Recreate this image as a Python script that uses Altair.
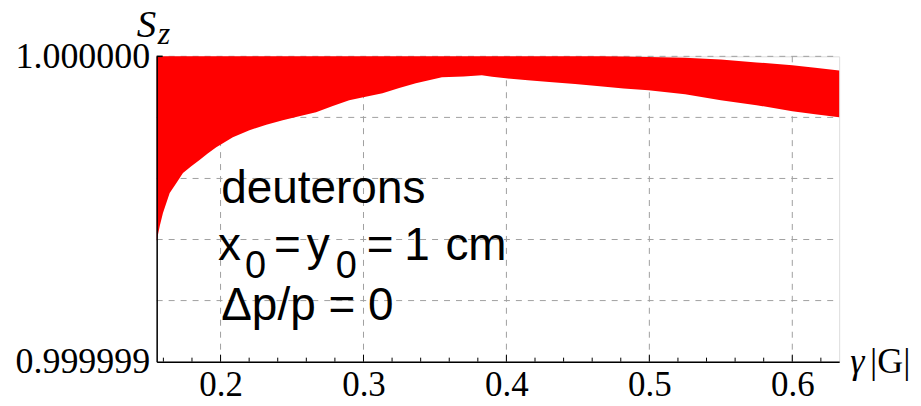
import altair as alt
import pandas as pd

# ---- data ----
gamma_g = [0.1553, 0.1575, 0.1597, 0.1644, 0.1691, 0.1737, 0.1795, 0.1853, 0.1910,
           0.1970, 0.2086, 0.2202, 0.2320, 0.2435, 0.2550, 0.2668, 0.2785, 0.2900,
           0.3015, 0.3133, 0.3250, 0.3366, 0.3549, 0.3700, 0.3828, 0.3900, 0.3996,
           0.4150, 0.4300, 0.4480, 0.4653, 0.4820, 0.4994, 0.5250, 0.5500, 0.5750,
           0.6000, 0.6160, 0.6328]
sz_lower = [0.9999993950, 0.9999994450, 0.9999994869, 0.9999995523,
            0.9999995850, 0.9999996176, 0.9999996400, 0.9999996601, 0.9999996820,
            0.9999997026, 0.9999997353, 0.9999997582, 0.9999997760, 0.9999997908,
            0.9999998040, 0.9999998170, 0.9999998370, 0.9999998562, 0.9999998680,
            0.9999998791, 0.9999998960, 0.9999999118, 0.9999999314, 0.9999999340,
            0.9999999379, 0.9999999330, 0.9999999281, 0.9999999220, 0.9999999160,
            0.9999999090, 0.9999999020, 0.9999998950, 0.9999998889, 0.9999998760,
            0.9999998562, 0.9999998400, 0.9999998203, 0.9999998100, 0.9999998007]
sz_upper = [1.0] * 31 + [0.9999999995, 0.9999999980, 0.9999999950, 0.9999999900,
                         0.9999999800, 0.9999999710, 0.9999999630, 0.9999999540]

x_major = [0.2, 0.3, 0.4, 0.5, 0.6]
x_minor = [0.16, 0.18, 0.22, 0.24, 0.26, 0.28, 0.32, 0.34, 0.36, 0.38,
           0.42, 0.44, 0.46, 0.48, 0.52, 0.54, 0.56, 0.58, 0.62]
y_grid = [0.9999992, 0.9999994, 0.9999996, 0.9999998, 1.0]
y_labels = [0.999999, 1.0]

X_DOMAIN = [0.1553, 0.6328]
Y_DOMAIN = [0.999999, 1.0]
W, H = 684, 306

df = pd.DataFrame({"g": gamma_g, "lo": sz_lower, "hi": sz_upper})

xs = alt.Scale(domain=X_DOMAIN, nice=False, zero=False)
ys = alt.Scale(domain=Y_DOMAIN, nice=False, zero=False)

x_axis = alt.Axis(values=x_major, format=".1f", ticks=False, grid=False,
                  domainColor="black", domainWidth=1.5, title=None,
                  labelFont="Liberation Serif", labelFontSize=35,
                  labelColor="black", labelPadding=6, zindex=1)
y_axis = alt.Axis(values=y_labels, format=".6f", ticks=False, grid=False,
                  domainColor="black", domainWidth=1.5, title=None,
                  labelFont="Liberation Serif", labelFontSize=36,
                  labelColor="black", labelPadding=7, zindex=1)

GRID = "#a0a0a0"

xgrid = alt.Chart(pd.DataFrame({"v": x_major})).mark_rule(
    color=GRID, strokeWidth=1, strokeDash=[6, 6]
).encode(x=alt.X("v:Q", scale=xs, axis=x_axis), y=alt.value(0), y2=alt.value(H))

ygrid = alt.Chart(pd.DataFrame({"v": y_grid})).mark_rule(
    color=GRID, strokeWidth=1, strokeDash=[6, 6]
).encode(y=alt.Y("v:Q", scale=ys, axis=y_axis), x=alt.value(0), x2=alt.value(W))

area = alt.Chart(df).mark_area(color="#ff0000", opacity=1, strokeWidth=0).encode(
    x=alt.X("g:Q", scale=xs, axis=x_axis),
    y=alt.Y("lo:Q", scale=ys, axis=y_axis),
    y2="hi:Q",
)

minor_ticks = alt.Chart(pd.DataFrame({"v": x_minor})).mark_rule(
    color="black", strokeWidth=1
).encode(x=alt.X("v:Q", scale=xs, axis=x_axis), y=alt.value(H), y2=alt.value(H - 4))

major_ticks = alt.Chart(pd.DataFrame({"v": x_major})).mark_rule(
    color="black", strokeWidth=1
).encode(x=alt.X("v:Q", scale=xs, axis=x_axis), y=alt.value(H), y2=alt.value(H - 7))

ytick_top = alt.Chart(pd.DataFrame({"v": [1.0]})).mark_rule(
    color="black", strokeWidth=1.5
).encode(y=alt.Y("v:Q", scale=ys, axis=y_axis), x=alt.value(0), x2=alt.value(6))


def txt(s, x, y, size, font="Liberation Sans", style="normal", align="center"):
    return alt.Chart(pd.DataFrame({"t": [s]})).mark_text(
        font=font, fontSize=size, fontStyle=style, align=align,
        baseline="alphabetic", color="black"
    ).encode(x=alt.value(x), y=alt.value(y), text="t:N")


SANS = 46
annots = [
    txt("deuterons", 167, 147, SANS),
    txt("x", 73, 204, SANS),
    txt("0", 99, 222, 38),
    txt("=", 131, 204, SANS),
    txt("y", 162, 204, SANS),
    txt("0", 190, 222, 38),
    txt("=", 224, 204, SANS),
    txt("1", 261, 204, SANS),
    txt("cm", 320, 204, SANS),
    txt("\u0394p/p = 0", 151, 264, SANS),
    txt("S", -20, -19, 39, font="Liberation Serif", style="italic", align="left"),
    txt("z", 1, -12, 32, font="Liberation Serif", style="italic", align="left"),
    txt("\u03b3", 695, 317, 36, font="Liberation Serif", style="italic", align="left"),
    txt("|G|", 715, 317, 36, font="Liberation Serif", align="left"),
]

chart = alt.layer(
    xgrid, ygrid, area, minor_ticks, major_ticks, ytick_top, *annots
).properties(
    width=W, height=H,
    autosize=alt.AutoSizeParams(type="none"),
    padding={"left": 149, "top": 48, "right": 74, "bottom": 42},
).configure_view(stroke=None).configure(background="white")

chart.save("out.html", embed_options={"renderer": "svg", "actions": False})
